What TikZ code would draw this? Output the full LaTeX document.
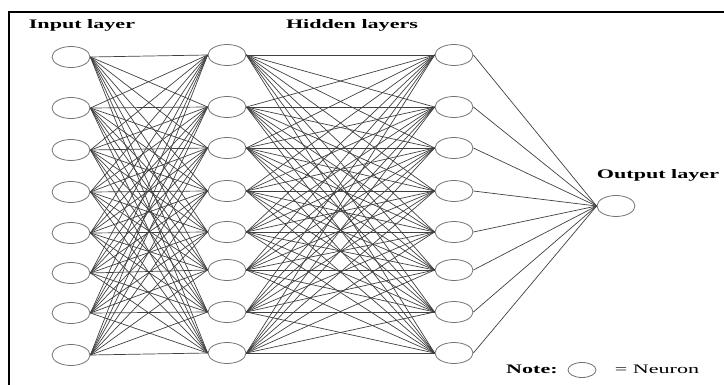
\documentclass[tikz,border=0pt]{standalone}
\usepackage{fontspec}
\newfontfamily\labelfont[FakeStretch=1.7]{Liberation Serif}
\usepackage{tikz}
\usetikzlibrary{shapes}

\tikzset{
  neuron/.style={ellipse,draw=black!55,line width=0.8pt,fill=white,minimum width=38pt,minimum height=21pt,inner sep=0pt},
  link/.style={draw=black!75,line width=0.7pt},
  layername/.style={font=\labelfont\fontsize{13}{15}\selectfont\bfseries,inner sep=0pt}
}

\begin{document}
\begin{tikzpicture}[x=1pt,y=-1pt]
		\useasboundingbox (0,0) rectangle (724,385);
		\draw[line width=2pt] (9,385) -- (9,12) -- (724,12);
		%
		\foreach \y [count=\i] in {57,108,150,192,233,273,313,355}
			\node[neuron] (I\i) at (71,\y) {};
		\foreach \y [count=\i] in {55,107,148,191,232,270,312,353}
			\node[neuron] (H\i) at (227,\y) {};
		\foreach \y [count=\i] in {55,107,148,191,232,270,312,353}
			\node[neuron] (G\i) at (454,\y) {};
		\node[neuron] (O) at (616,206) {};
		%
		\foreach \i in {1,...,8}
			\foreach \j in {1,...,8}
				\path[link] (I\i.east) -- (H\j.west);
		\foreach \i in {1,...,8}
			\foreach \j in {1,...,8}
				\path[link] (H\i.east) -- (G\j.west);
		\foreach \i in {1,...,8}
			\path[link] (G\i.east) -- (O.west);
		%
		\node[layername] (inlabel) at (82,25) {Input layer};
		\node[layername] (hidlabel) at (352,25) {Hidden layers};
		\node[layername] (outlabel) at (658,175) {Output layer};
		%
		\node[layername] (note) at (532,369) {Note:};
		\node[neuron,minimum width=28pt,minimum height=15pt] (key) at (582,370) {};
		\node[layername,font=\labelfont\fontsize{13}{15}\selectfont] (keytext) at (657,369) {= Neuron};
\end{tikzpicture}
\end{document}
